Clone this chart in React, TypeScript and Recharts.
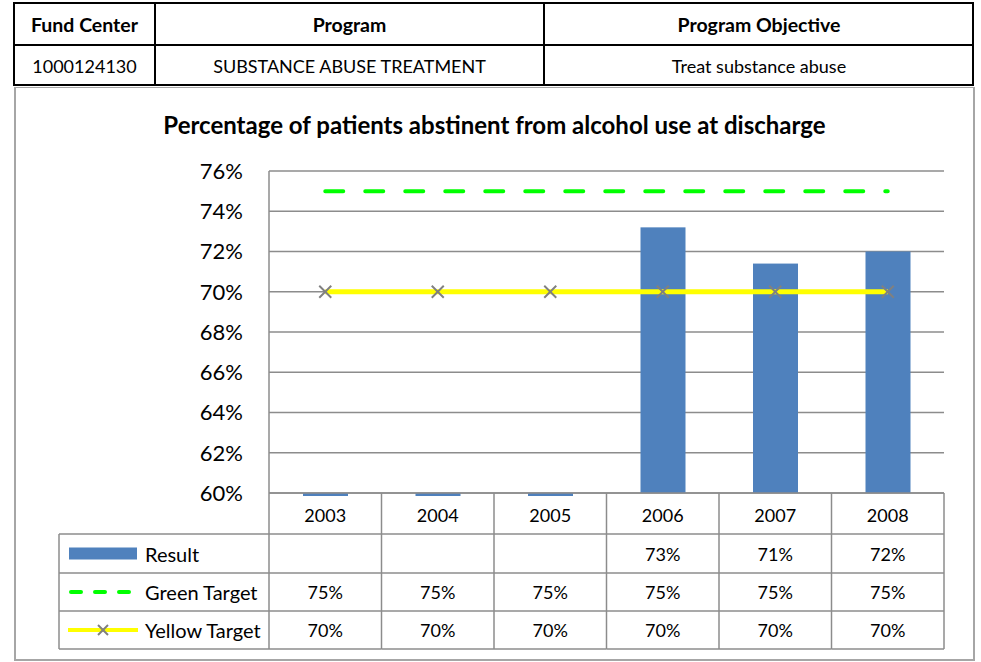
import React from "react";
import {
  ComposedChart,
  Bar,
  Line,
  XAxis,
  YAxis,
  CartesianGrid,
} from "recharts";

const years = ["2003", "2004", "2005", "2006", "2007", "2008"];
const resultValues = [0, 0, 0, 73.2, 71.4, 72.0];
const greenTarget = [75, 75, 75, 75, 75, 75];
const yellowTarget = [70, 70, 70, 70, 70, 70];
const yTicks = [60, 62, 64, 66, 68, 70, 72, 74, 76];

const headerCols = ["Fund Center", "Program", "Program Objective"];
const headerVals = ["1000124130", "SUBSTANCE ABUSE TREATMENT", "Treat substance abuse"];

const FONT = "Lato, 'Open Sans', sans-serif";
const GRID = "#8c8c8c";
const BAR = "#4F81BD";
const GREEN = "#00FF00";
const YELLOW = "#FFFF00";
const MARK = "#808080";

// layout
const CHART_W = 961;
const CHART_H = 573;
const PLOT_W = 675;
const CELL_W = PLOT_W / years.length;
const LEGEND_W = 210;
const ROWS = [41, 80, 118, 156];

const chartData = years.map((year, i) => ({
  year,
  result: resultValues[i],
  green: greenTarget[i],
  yellow: yellowTarget[i],
}));

const pct = (v: number) => `${Math.round(v)}%`;

function drawX(cx: number, cy: number, half: number, key?: any) {
  return (
    <g key={key} stroke={MARK} strokeWidth={2}>
      <line x1={cx - half} y1={cy - half} x2={cx + half} y2={cy + half} />
      <line x1={cx - half} y1={cy + half} x2={cx + half} y2={cy - half} />
    </g>
  );
}

function YellowDot(props: any) {
  const { cx, cy, index } = props;
  if (cx == null || cy == null) return null;
  return drawX(cx, cy, 6, index);
}

function ResultBar(props: any) {
  const { x, y, width, height, payload } = props;
  if (payload.result === 0) {
    // Excel draws a thin stub below the axis for empty (zero) results
    return <rect x={x} y={y + height} width={width} height={3} fill={BAR} />;
  }
  return <rect x={x} y={y} width={width} height={height} fill={BAR} />;
}

function TableColumn(props: any) {
  const { x, y, payload } = props;
  const i = payload.index;
  const left = x - CELL_W / 2;
  const right = x + CELL_W / 2;
  const bottom = y + ROWS[3];
  const cellText = [
    resultValues[i] ? pct(resultValues[i]) : "",
    pct(greenTarget[i]),
    pct(yellowTarget[i]),
  ];
  const rowMid = [
    (ROWS[0] + ROWS[1]) / 2,
    (ROWS[1] + ROWS[2]) / 2,
    (ROWS[2] + ROWS[3]) / 2,
  ];
  const lx = left - LEGEND_W;
  return (
    <g fontFamily={FONT} fontSize={18} fill="#000">
      <line x1={right} y1={y} x2={right} y2={bottom} stroke={GRID} strokeWidth={1.5} />
      {i === 0 && (
        <line x1={left} y1={y} x2={left} y2={bottom} stroke={GRID} strokeWidth={1.5} />
      )}
      {ROWS.map((r) => (
        <line key={r} x1={left} y1={y + r} x2={right} y2={y + r} stroke={GRID} strokeWidth={1.5} />
      ))}
      <text x={x} y={y + ROWS[0] / 2 + 1} textAnchor="middle" dominantBaseline="central">
        {payload.value}
      </text>
      {cellText.map((t, k) => (
        <text key={k} x={x} y={y + rowMid[k]} textAnchor="middle" dominantBaseline="central">
          {t}
        </text>
      ))}
      {i === 0 && (
        <g>
          <line x1={lx} y1={y + ROWS[0]} x2={lx} y2={bottom} stroke={GRID} strokeWidth={1.5} />
          {ROWS.map((r) => (
            <line key={r} x1={lx} y1={y + r} x2={left} y2={y + r} stroke={GRID} strokeWidth={1.5} />
          ))}
          <rect x={lx + 10} y={y + rowMid[0] - 6} width={68} height={12} fill={BAR} />
          <line
            x1={lx + 12}
            y1={y + rowMid[1]}
            x2={lx + 76}
            y2={y + rowMid[1]}
            stroke={GREEN}
            strokeWidth={4}
            strokeDasharray="10 14"
            strokeLinecap="round"
          />
          <line
            x1={lx + 9}
            y1={y + rowMid[2]}
            x2={lx + 79}
            y2={y + rowMid[2]}
            stroke={YELLOW}
            strokeWidth={4}
          />
          {drawX(lx + 44, y + rowMid[2], 5)}
          <g fontSize={20}>
            <text x={lx + 86} y={y + rowMid[0]} dominantBaseline="central">Result</text>
            <text x={lx + 86} y={y + rowMid[1]} dominantBaseline="central">Green Target</text>
            <text x={lx + 86} y={y + rowMid[2]} dominantBaseline="central">Yellow Target</text>
          </g>
        </g>
      )}
    </g>
  );
}

const cell = (left: number, top: number, width: number, height: number): React.CSSProperties => ({
  position: "absolute",
  left,
  top,
  width,
  height,
  display: "flex",
  alignItems: "center",
  justifyContent: "center",
  fontSize: 18,
});

export default function App() {
  const colX = [14, 155, 544, 974];
  return (
    <div
      style={{
        position: "absolute",
        left: 0,
        top: 0,
        width: 981,
        height: 662,
        background: "#fff",
        fontFamily: FONT,
        color: "#000",
      }}
    >
      {/* header table */}
      <div
        style={{
          position: "absolute",
          left: 13,
          top: 2,
          width: 961,
          height: 84,
          border: "2px solid #000",
          boxSizing: "border-box",
        }}
      />
      <div style={{ position: "absolute", left: 13, top: 44, width: 961, height: 2, background: "#000" }} />
      <div style={{ position: "absolute", left: 154, top: 2, width: 2, height: 84, background: "#000" }} />
      <div style={{ position: "absolute", left: 543, top: 2, width: 2, height: 84, background: "#000" }} />
      {headerCols.map((h, i) => (
        <div key={h} style={{ ...cell(colX[i], 3, colX[i + 1] - colX[i], 42), fontWeight: 700, fontSize: 19.5 }}>
          {h}
        </div>
      ))}
      {headerVals.map((h, i) => (
        <div key={h} style={cell(colX[i], 45, colX[i + 1] - colX[i], 41)}>
          {h}
        </div>
      ))}

      {/* chart frame */}
      <div
        style={{
          position: "absolute",
          left: 14,
          top: 87,
          width: 961,
          height: 574,
          border: "2px solid #a6a6a6",
          borderTop: "1px solid #a6a6a6",
          boxSizing: "border-box",
        }}
      />
      <div
        style={{
          position: "absolute",
          left: 14,
          top: 108,
          width: 961,
          textAlign: "center",
          fontWeight: 700,
          fontSize: 24,
          lineHeight: "34px",
        }}
      >
        Percentage of patients abstinent from alcohol use at discharge
      </div>

      <div style={{ position: "absolute", left: 14, top: 88 }}>
        <ComposedChart
          width={CHART_W}
          height={CHART_H}
          data={chartData}
          margin={{ top: 83, right: 31, bottom: 8, left: 155 }}
          barSize={45}
        >
          <CartesianGrid vertical={false} stroke={GRID} strokeWidth={1.5} />
          <XAxis
            dataKey="year"
            interval={0}
            height={160}
            tickSize={0}
            tickMargin={0}
            tickLine={false}
            axisLine={{ stroke: GRID, strokeWidth: 1.5 }}
            tick={<TableColumn />}
          />
          <YAxis
            width={100}
            domain={[60, 76]}
            ticks={yTicks}
            tickFormatter={(v: number) => `${v}%`}
            tickSize={0}
            tickMargin={26}
            tickLine={false}
            axisLine={{ stroke: GRID, strokeWidth: 1.5 }}
            tick={{ fill: "#000", fontSize: 22, fontFamily: FONT }}
          />
          <Bar
            dataKey={(d: any) => Math.max(d.result, 60)}
            shape={<ResultBar />}
            isAnimationActive={false}
          />
          <Line
            dataKey="green"
            stroke={GREEN}
            strokeWidth={4}
            strokeDasharray="18 22"
            strokeLinecap="round"
            dot={false}
            activeDot={false}
            isAnimationActive={false}
          />
          <Line
            dataKey="yellow"
            stroke={YELLOW}
            strokeWidth={5}
            dot={<YellowDot />}
            activeDot={false}
            isAnimationActive={false}
          />
        </ComposedChart>
      </div>
    </div>
  );
}
